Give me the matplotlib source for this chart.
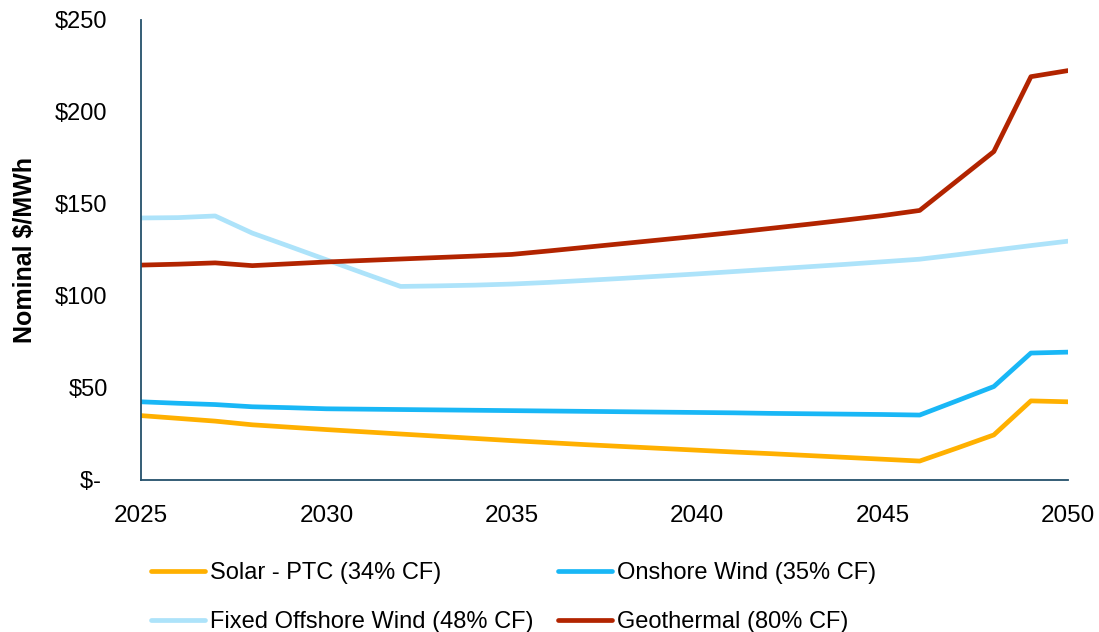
import matplotlib
matplotlib.use("Agg")
import matplotlib.pyplot as plt

years = list(range(2025, 2051))

solar = [35.0, 33.5, 32.0, 30.0, 28.7, 27.4, 26.2, 25.0, 23.8, 22.6, 21.4, 20.3, 19.2,
         18.2, 17.2, 16.2, 15.2, 14.3, 13.3, 12.3, 11.3, 10.3, 17.3, 24.5, 43.0, 42.5]
onshore = [42.5, 41.7, 41.0, 39.8, 39.3, 38.7, 38.5, 38.3, 38.1, 37.9, 37.7, 37.5, 37.3,
           37.1, 36.9, 36.7, 36.5, 36.2, 36.0, 35.8, 35.6, 35.3, 43.0, 50.8, 69.0, 69.5]
offshore = [142.4, 142.6, 143.5, 134.2, 127.0, 119.7, 112.4, 105.2, 105.5, 105.9, 106.5,
            107.4, 108.5, 109.6, 110.8, 112.0, 113.3, 114.6, 115.9, 117.2, 118.6, 120.0,
            122.4, 124.9, 127.4, 129.8]
geothermal = [116.8, 117.3, 118.0, 116.5, 117.5, 118.5, 119.3, 120.1, 120.9, 121.7, 122.6,
              124.5, 126.5, 128.5, 130.5, 132.5, 134.6, 136.8, 139.0, 141.3, 143.7, 146.5,
              162.5, 178.5, 219.2, 222.5]

labels = ["Solar - PTC (34% CF)", "Onshore Wind (35% CF)",
          "Fixed Offshore Wind (48% CF)", "Geothermal (80% CF)"]
colors = ["#FFB000", "#19B7F6", "#ADE3FA", "#B22400"]

yticks = [0, 50, 100, 150, 200, 250]
ytick_labels = ["$- ", "$50", "$100", "$150", "$200", "$250"]
xticks = [2025, 2030, 2035, 2040, 2045, 2050]

plt.rcParams['font.family'] = ['Liberation Sans', 'DejaVu Sans']

fig = plt.figure(figsize=(10.99, 6.32), dpi=100)
ax = fig.add_axes([141/1099, 1 - 480/632, (1068-141)/1099, (480-20)/632])

series = [solar, onshore, offshore, geothermal]
lines = []
for s, c, lab in zip(series, colors, labels):
    ln, = ax.plot(years, s, color=c, lw=3.4, label=lab, solid_capstyle='round',
                  solid_joinstyle='round')
    lines.append(ln)

ax.set_xlim(2025, 2050)
ax.set_ylim(0, 250)
ax.set_xticks(xticks)
ax.set_xticklabels([str(x) for x in xticks])
ax.set_yticks(yticks)
ax.set_yticklabels(ytick_labels)
ax.tick_params(axis='y', length=0, labelsize=17, labelcolor='black', pad=24)
ax.tick_params(axis='x', length=0, labelsize=17.5, labelcolor='black', pad=18)

for sp in ['top', 'right']:
    ax.spines[sp].set_visible(False)
for sp in ['left', 'bottom']:
    ax.spines[sp].set_color('#24506B')
    ax.spines[sp].set_linewidth(1.3)

ax.set_ylabel("Nominal $/MWh", fontsize=18, fontweight='bold')
ax.yaxis.set_label_coords(-0.112, 0.5)

leg_kw = dict(frameon=False, fontsize=17, handlelength=2.3, handletextpad=0.2,
              labelspacing=1.15, borderaxespad=0, borderpad=0)
leg1 = fig.legend([lines[0], lines[2]], [labels[0], labels[2]], loc='upper left',
                  bbox_to_anchor=(151/1099, 1 - 562/632), **leg_kw)
leg2 = fig.legend([lines[1], lines[3]], [labels[1], labels[3]], loc='upper left',
                  bbox_to_anchor=(558/1099, 1 - 562/632), **leg_kw)

fig.savefig("out.png", dpi=100)
